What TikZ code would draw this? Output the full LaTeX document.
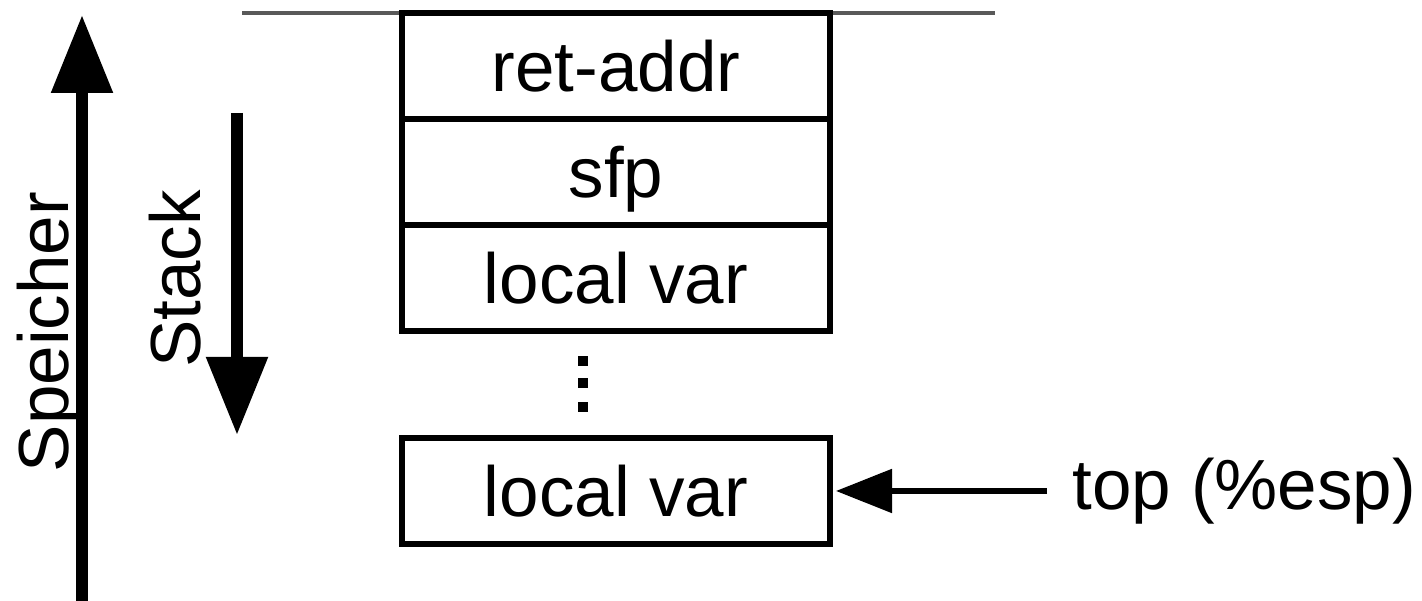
\documentclass[tikz,border=0pt]{standalone}
\usepackage{fontspec}
\setmainfont{Liberation Sans}
\usetikzlibrary{arrows.meta, positioning}

\begin{document}
\begin{tikzpicture}[
    cell/.style={draw, line width=1.7pt, minimum width=4.28cm, minimum height=1.06cm,
        outer sep=0pt, inner sep=0pt, text height=0.52cm, text depth=0pt,
        font=\fontsize{20.2}{24}\selectfont},
    bigarrow/.style={line width=3.4pt, -{Triangle[length=0.78cm, width=0.59cm]}},
    lbl/.style={font=\fontsize{20.2}{24}\selectfont, inner sep=0pt}
]
    \useasboundingbox (0,0) rectangle (14.22,6.01);

    % frame boundary
    \coordinate (bndL) at (2.42,5.88);
    \coordinate (bndR) at (9.95,5.88);
    \draw[black!65, line width=1.1pt] (bndL) -- (bndR);

    % stack cells
    \node[cell, anchor=north] (ret) at (6.16,5.88) {ret-addr};
    \node[cell, below=0pt of ret] (sfp) {sfp};
    \node[cell, below=0pt of sfp] (lv1) {local var};
    \node[cell] (lv2) at (6.16,1.10) {local var};

    % dots between the cells
    \foreach \y in {2.40,2.18,1.94}
        \fill (5.83,\y) +(-0.05,-0.05) rectangle +(0.05,0.05);

    % memory direction
    \coordinate (memLo) at (0.82,0);
    \coordinate (memHi) at (0.82,5.86);
    \draw[bigarrow] (memLo) -- (memHi);
    \node[lbl, rotate=90, anchor=base] (mem) at (0.68,2.69) {Speicher};

    % growth direction
    \coordinate (stkHi) at (2.37,4.88);
    \coordinate (stkLo) at (2.37,1.66);
    \draw[bigarrow] (stkHi) -- (stkLo);
    \node[lbl, rotate=90, anchor=base] (stk) at (2.00,3.22) {Stack};

    % stack pointer
    \node[lbl, anchor=west, inner xsep=0.25cm] (esp) at (10.47,1.10) {top (\%esp)};
    \draw[line width=1.5pt, -{Triangle[length=0.56cm, width=0.43cm]}, shorten >=0.06cm] (esp) -- (lv2);
\end{tikzpicture}
\end{document}
